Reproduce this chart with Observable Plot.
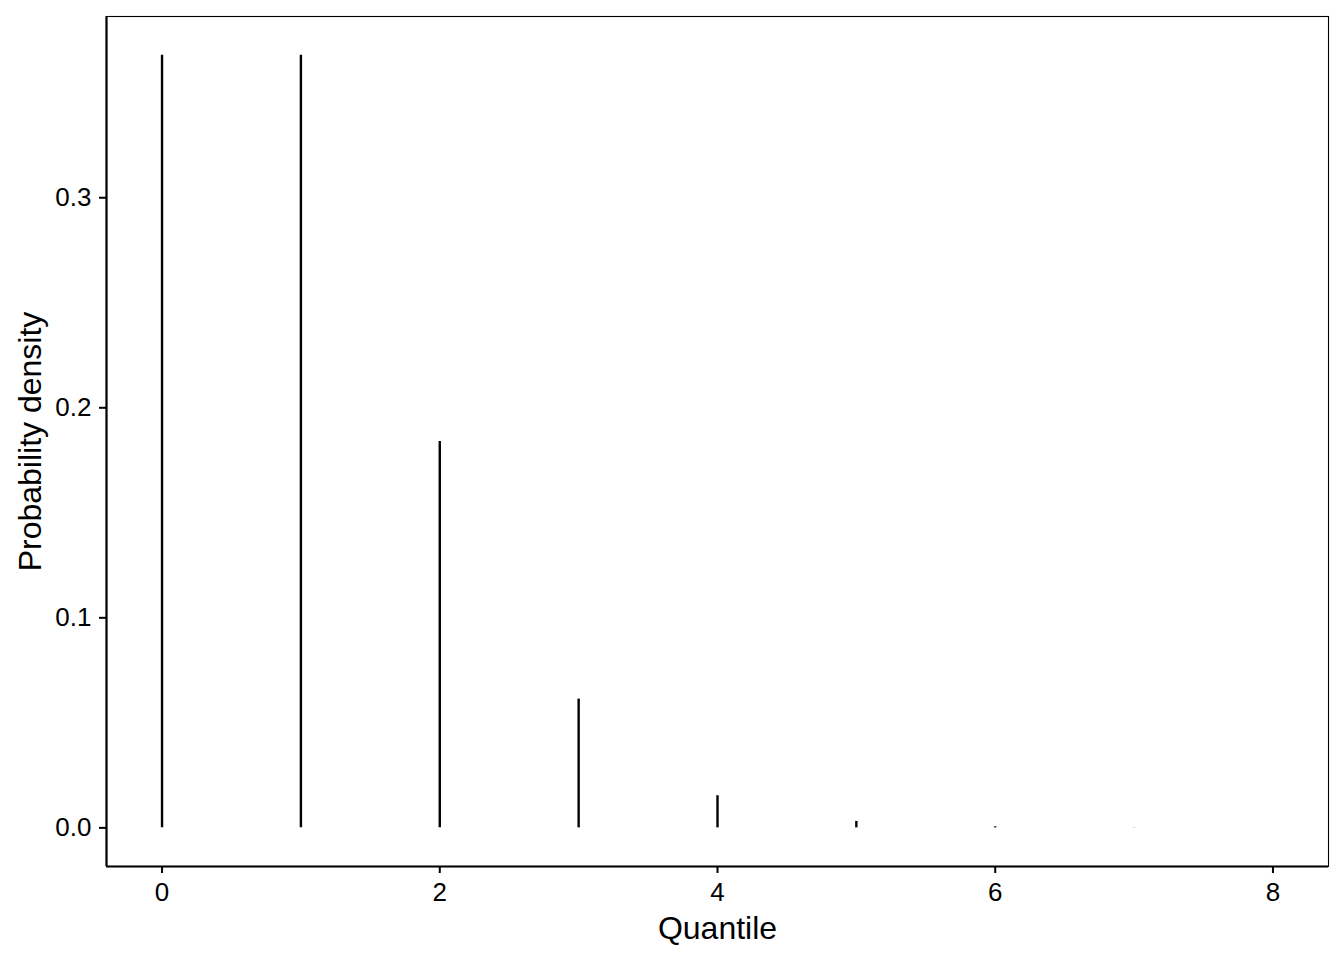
<!DOCTYPE html>
<html>
<head>
<meta charset="utf-8">
<script src="https://cdn.jsdelivr.net/npm/d3@7"></script>
<script src="https://cdn.jsdelivr.net/npm/@observablehq/plot@0.6"></script>
<style>
  html, body { margin: 0; padding: 0; background: #fff; }
  #chart { width: 1344px; height: 960px; }
</style>
</head>
<body>
<div id="chart"></div>
<script>
const quantiles = [0, 1, 2, 3, 4, 5, 6, 7, 8];
const densities = [0.3679, 0.3679, 0.1839, 0.0613, 0.0153, 0.00307, 0.000511, 0.000073, 0.0000091];
const xTicks = [0, 2, 4, 6, 8];
const yTicks = [0.0, 0.1, 0.2, 0.3];
const xTitle = "Quantile";
const yTitle = "Probability density";

const data = quantiles.map((q, i) => ({q, d: densities[i]}));
const xPad = (d3.max(quantiles) - d3.min(quantiles)) * 0.05;
const yPad = d3.max(densities) * 0.05;
const xDomain = [d3.min(quantiles) - xPad, d3.max(quantiles) + xPad];
const yDomain = [-yPad, d3.max(densities) + yPad];

const chart = Plot.plot({
  width: 1344,
  height: 960,
  marginLeft: 106,
  marginRight: 16,
  marginTop: 16,
  marginBottom: 94,
  style: {fontFamily: "'Liberation Sans', Arial, Helvetica, sans-serif", fontSize: "26px", background: "#fff", color: "#000"},
  x: {domain: xDomain, ticks: xTicks},
  y: {domain: yDomain, ticks: yTicks},
  marks: [
    Plot.frame({stroke: "#000", strokeWidth: 1.1}),
    Plot.ruleX(data, {x: "q", y1: 0, y2: "d", stroke: "#000", strokeWidth: 2.4}),
    Plot.ruleX([xDomain[0]], {stroke: "#000", strokeWidth: 2.2}),
    Plot.ruleY([yDomain[0]], {stroke: "#000", strokeWidth: 2.2}),
    Plot.axisX(xTicks, {tickSize: 7, tickPadding: 9, fontSize: 26, stroke: "#000", strokeWidth: 2, label: null, tickFormat: d3.format("d")}),
    Plot.axisY(yTicks, {tickSize: 7, tickPadding: 8, fontSize: 26, stroke: "#000", strokeWidth: 2, label: null, tickFormat: d3.format(".1f")}),
    Plot.text([xTitle], {frameAnchor: "bottom", dy: 62, fontSize: 32, fill: "#000", lineAnchor: "middle", textAnchor: "middle"}),
    Plot.text([yTitle], {frameAnchor: "left", dx: -76, rotate: -90, fontSize: 32, fill: "#000", lineAnchor: "middle", textAnchor: "middle"})
  ]
});
document.getElementById("chart").appendChild(chart);
</script>
</body>
</html>
